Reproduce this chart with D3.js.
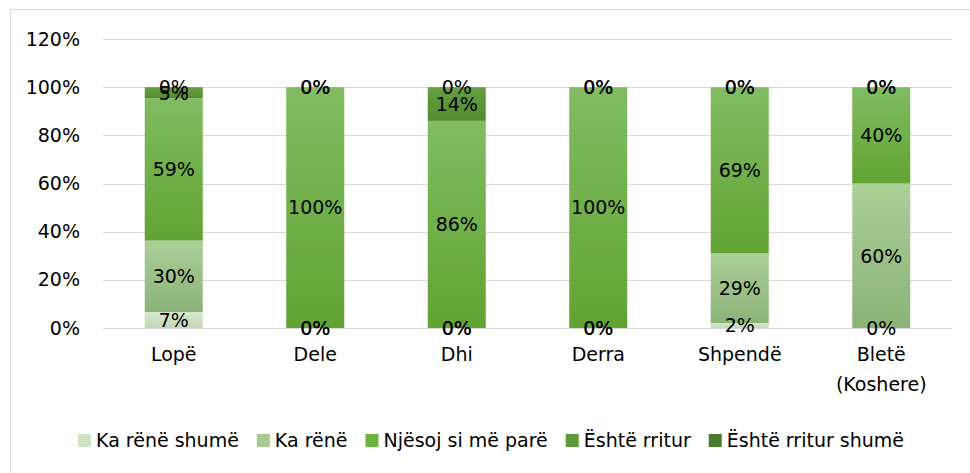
<!DOCTYPE html>
<html>
<head>
<meta charset="utf-8">
<script src="https://cdn.jsdelivr.net/npm/d3@7"></script>
<style>
  body { margin: 0; background: #fff; }
  text { font-family: "DejaVu Sans", sans-serif; fill: #000; }
</style>
</head>
<body>
<div id="chart"></div>
<script>
// data, share of holdings per answer
const categories = ['Lopë', 'Dele', 'Dhi', 'Derra', 'Shpendë', 'Bletë\n(Koshere)'];
const seriesNames = ['Ka rënë shumë', 'Ka rënë', 'Njësoj si më parë', 'Është rritur', 'Është rritur shumë'];
const kaReneShume    = [0.066, 0, 0, 0, 0.02, 0];
const kaRene         = [0.297, 0, 0, 0, 0.29, 0.60];
const njesoj         = [0.591, 1.00, 0.86, 1.00, 0.69, 0.40];
const eshteRritur    = [0.046, 0, 0.14, 0, 0, 0];
const eshteRriturSh  = [0, 0, 0, 0, 0, 0];
const yTicks = [0, 0.2, 0.4, 0.6, 0.8, 1.0, 1.2];

const seriesValues = [kaReneShume, kaRene, njesoj, eshteRritur, eshteRriturSh];
// gradient top / bottom + legend swatch colour
const colors = [
  { top: '#d7e8cf', bottom: '#c3d8b6', key: '#cfe2c5' },
  { top: '#abcf97', bottom: '#8bb378', key: '#a6ca90' },
  { top: '#81bc62', bottom: '#61a433', key: '#6db23f' },
  { top: '#67a040', bottom: '#528c2e', key: '#5e9a3a' },
  { top: '#4e8230', bottom: '#3f6e25', key: '#4a7a2c' }
];

const w = 970, h = 473;
const margin = { left: 103, right: 18, top: 39, bottom: 145 };
const fs = '19px';

const rows = categories.map((c, i) => {
  const r = { cat: c };
  seriesNames.forEach((s, k) => { r[s] = seriesValues[k][i]; });
  return r;
});
const stacked = d3.stack().keys(seriesNames)(rows);

const svg = d3.select('#chart').append('svg')
  .attr('width', w).attr('height', h);

// chart frame
svg.append('rect')
  .attr('x', 10.5).attr('y', 9.5)
  .attr('width', 1000).attr('height', 500)
  .attr('fill', 'none').attr('stroke', '#d9d9d9');

const defs = svg.append('defs');
colors.forEach((c, k) => {
  const g = defs.append('linearGradient')
    .attr('id', 'grad' + k)
    .attr('x1', 0).attr('y1', 0).attr('x2', 0).attr('y2', 1);
  g.append('stop').attr('offset', '0%').attr('stop-color', c.top);
  g.append('stop').attr('offset', '100%').attr('stop-color', c.bottom);
});

const x = d3.scaleBand()
  .domain(categories)
  .range([margin.left, w - margin.right])
  .paddingInner(0.59)
  .paddingOuter(0.295);

const y = d3.scaleLinear()
  .domain([0, 1.2])
  .range([h - margin.bottom, margin.top]);

// gridlines
svg.append('g')
  .selectAll('line')
  .data(yTicks)
  .enter()
  .append('line')
  .attr('x1', margin.left).attr('x2', w - margin.right)
  .attr('y1', d => Math.round(y(d)) + 0.5)
  .attr('y2', d => Math.round(y(d)) + 0.5)
  .attr('stroke', '#d9d9d9').attr('stroke-width', 1);

// y axis labels
const yAxis = d3.axisLeft(y)
  .tickValues(yTicks)
  .tickFormat(d => Math.round(d * 100) + '%')
  .tickSize(0).tickPadding(23);
const yg = svg.append('g')
  .attr('transform', `translate(${margin.left},0)`)
  .call(yAxis);
yg.select('.domain').remove();
yg.selectAll('text').style('font-size', fs).style('font-family', '"DejaVu Sans", sans-serif').attr('fill', '#000');

// bars
svg.append('g')
  .selectAll('g')
  .data(stacked)
  .enter()
  .append('g')
  .attr('fill', (d, k) => `url(#grad${k})`)
  .selectAll('rect')
  .data(d => d)
  .enter()
  .append('rect')
  .attr('x', d => x(d.data.cat))
  .attr('width', x.bandwidth())
  .attr('y', d => y(d[1]))
  .attr('height', d => y(d[0]) - y(d[1]));

// data labels (zeros sit on the segment edge, as in the original)
svg.append('g')
  .selectAll('g')
  .data(stacked)
  .enter()
  .append('g')
  .selectAll('text')
  .data(d => d)
  .enter()
  .append('text')
  .attr('x', d => x(d.data.cat) + x.bandwidth() / 2)
  .attr('y', d => y((d[0] + d[1]) / 2))
  .attr('dy', '0.36em')
  .attr('text-anchor', 'middle')
  .style('font-size', fs)
  .text(d => Math.round((d[1] - d[0]) * 100) + '%');

// category labels
const xAxis = d3.axisBottom(x).tickSize(0).tickPadding(0).tickFormat('');
const xg = svg.append('g')
  .attr('transform', `translate(0,${h - margin.bottom})`)
  .call(xAxis);
xg.select('.domain').remove();
xg.selectAll('.tick').each(function (d) {
  const t = d3.select(this).append('text')
    .attr('text-anchor', 'middle')
    .style('font-size', fs)
    .attr('fill', '#000');
  d.split('\n').forEach((line, i) => {
    t.append('tspan').attr('x', 0).attr('y', 33 + i * 30).text(line);
  });
});

// legend
const legend = svg.append('g').attr('transform', 'translate(78,440)');
let lx = 0;
seriesNames.forEach((s, k) => {
  legend.append('rect')
    .attr('x', lx).attr('y', -6)
    .attr('width', 13).attr('height', 13)
    .attr('fill', colors[k].key);
  const t = legend.append('text')
    .attr('x', lx + 18).attr('y', 0).attr('dy', '0.36em')
    .style('font-size', fs)
    .text(s);
  lx += 18 + t.node().getComputedTextLength() + 18;
});
</script>
</body>
</html>
